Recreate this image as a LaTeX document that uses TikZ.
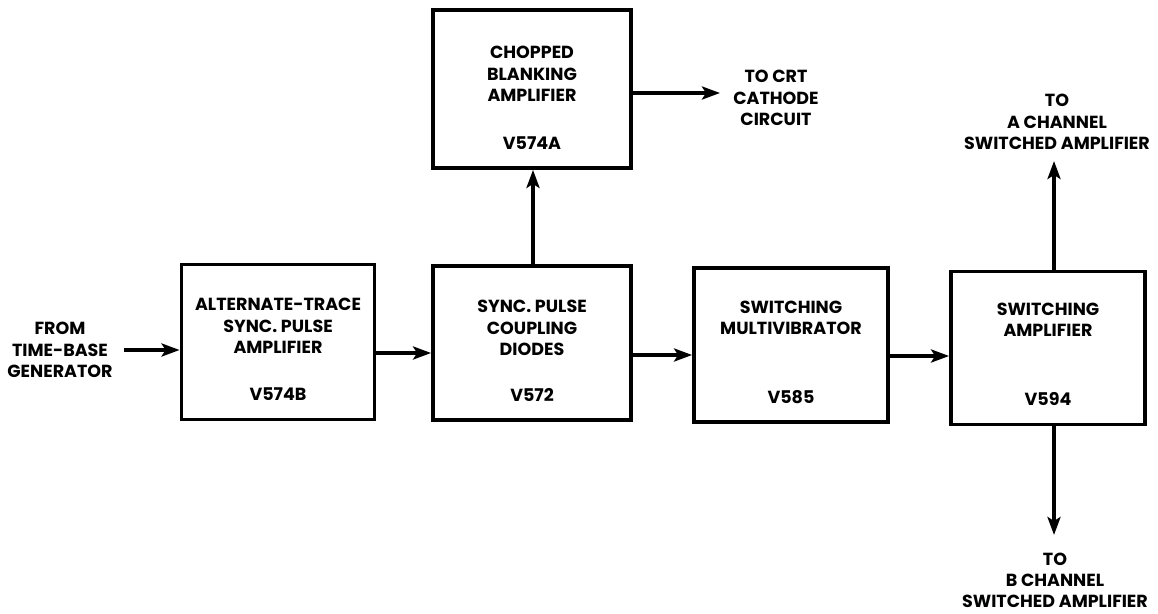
\documentclass[tikz,border=0pt]{standalone}
\usepackage{fontspec}
\setmainfont{Poppins}
\usetikzlibrary{arrows.meta}
\tikzset{
  blk/.style={draw, line width=3.8pt, minimum width=#1, inner sep=0pt},
  lbl/.style={font=\fontsize{17.5}{21.5}\selectfont\bfseries, align=center, inner sep=0pt},
  conn/.style={line width=3.8pt, -{Stealth[length=18pt,width=13pt,inset=4pt]}},
}
\begin{document}
\begin{tikzpicture}[x=1pt,y=-1pt]
\useasboundingbox (0,0) rectangle (1158,613);
% boxes
\node[blk=193pt, minimum height=155pt] (alt) at (278,342) {};
\node[blk=198pt, minimum height=154pt] (coup) at (532,343) {};
\node[blk=194pt, minimum height=154pt] (multi) at (791,345) {};
\node[blk=194pt, minimum height=153pt] (swamp) at (1048,348) {};
\node[blk=198pt, minimum height=158pt] (chop) at (532,89) {};
% box texts
\node[lbl] (altt) at (278,326) {ALTERNATE-TRACE\\SYNC. PULSE\\AMPLIFIER};
\node[lbl] (altv) at (278,394) {V574B};
\node[lbl] (coupt) at (532,328) {SYNC. PULSE\\COUPLING\\DIODES};
\node[lbl] (coupv) at (532,395) {V572};
\node[lbl] (multit) at (791,318) {SWITCHING\\MULTIVIBRATOR};
\node[lbl] (multiv) at (791,397) {V585};
\node[lbl] (swampt) at (1048,320) {SWITCHING\\AMPLIFIER};
\node[lbl] (swampv) at (1048,399) {V594};
\node[lbl] (chopt) at (532,74) {CHOPPED\\BLANKING\\AMPLIFIER};
\node[lbl] (chopv) at (532,143) {V574A};
% external labels
\node[lbl] (from) at (60,350) {FROM\\TIME-BASE\\GENERATOR};
\node[lbl] (crt) at (776,98) {TO CRT\\CATHODE\\CIRCUIT};
\node[lbl] (achan) at (1057,122) {TO\\A CHANNEL\\SWITCHED AMPLIFIER};
\node[lbl, font=\fontsize{17.5}{21}\selectfont\bfseries] (bchan) at (1055,580) {TO\\B CHANNEL\\SWITCHED AMPLIFIER};
% anchor points
\coordinate (fromend) at (124,350);
\coordinate (crtend) at (720,93);
\coordinate (aend) at (1054,161);
\coordinate (bend) at (1054,535);
% connectors
\draw[conn] (fromend) -- (fromend -| alt.west);
\draw[conn] (alt.east |- 0,353) -- (coup.west |- 0,353);
\draw[conn] (coup.east |- 0,355) -- (multi.west |- 0,355);
\draw[conn] (multi.east |- 0,356) -- (swamp.west |- 0,356);
\draw[conn] (coup.north -| 533,0) -- (chop.south -| 533,0);
\draw[conn] (chop.east |- crtend) -- (crtend);
\draw[conn] (swamp.north -| aend) -- (aend);
\draw[conn] (swamp.south -| bend) -- (bend);
\end{tikzpicture}
\end{document}
